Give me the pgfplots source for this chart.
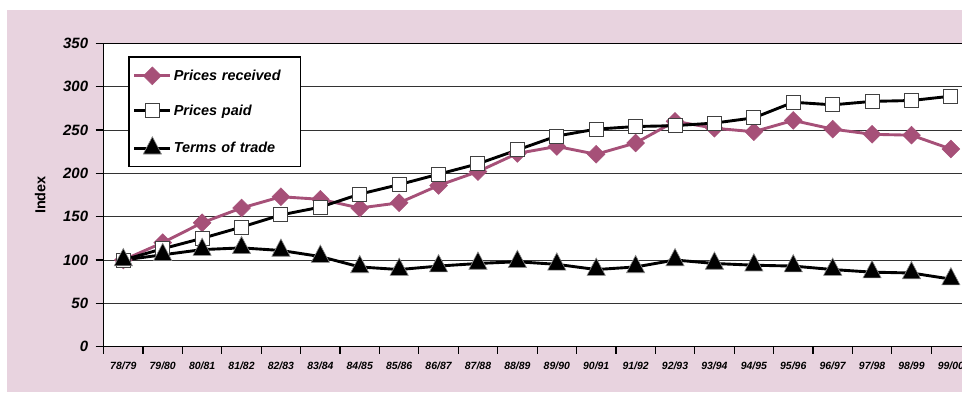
\documentclass[border=0pt]{standalone}
\usepackage{fontspec}
\setmainfont{Liberation Sans}
\usepackage{pgfplots}
\usepackage{pgfplotstable}
\pgfplotsset{compat=1.18}

\definecolor{bgpink}{RGB}{232,211,223}
\definecolor{mauve}{RGB}{166,80,120}

% Index values, 1978/79 = 100
\pgfplotstableread{
idx recv paid tot
0  100 100 100
1  120 113 106
2  143 125 112
3  160 138 114
4  173 152 111
5  170 161 104
6  160 176 92
7  166 187 89
8  186 199 93
9  202 211 96
10 223 227 98
11 231 243 95
12 222 251 89
13 235 254 92
14 260 255 100
15 252 258 96
16 248 264 94
17 261 282 93
18 251 279 89
19 245 283 86
20 244 284 85
21 228 289 78
}\indextable

\begin{document}
\begin{tikzpicture}
\useasboundingbox (0bp,0bp) rectangle (962bp,396bp);
\clip (0bp,0bp) rectangle (962bp,396bp);
\fill[bgpink] (6.7bp,4bp) rectangle (975bp,386bp);
\begin{axis}[
  at={(103.6bp,49.3bp)}, anchor=south west,
  scale only axis, width=867bp, height=303.4bp,
  xmin=-0.5, xmax=21.5, ymin=0, ymax=350,
  axis background/.style={fill=white},
  axis line style={black, line width=1.4pt},
  /pgf/number format/assume math mode=true,
  ytick={0,50,...,350},
  xtick={0,...,21},
  xticklabels={78/79,79/80,80/81,81/82,82/83,83/84,84/85,85/86,86/87,87/88,88/89,89/90,90/91,91/92,92/93,93/94,94/95,95/96,96/97,97/98,98/99,99/00},
  minor xtick={-0.5,0.5,...,21.5},
  xtick pos=bottom, ytick pos=left,
  tick align=outside,
  major tick length=8bp,
  minor tick length=7bp,
  major x tick style={draw=none},
  minor x tick style={black, line width=1.2pt},
  major y tick style={black, line width=1.2pt},
  ymajorgrids,
  major y grid style={black!80, line width=0.8pt},
  yticklabel style={font=\fontsize{15}{17}\selectfont\bfseries\itshape, xshift=-4bp},
  xticklabel style={font=\fontsize{10.5}{12}\selectfont\bfseries\itshape, yshift=-4bp},
  ylabel={Index},
  ylabel style={font=\fontsize{14.5}{16}\selectfont\bfseries, at={(axis description cs:-0.073,0.5)}, anchor=center},
  legend style={
    at={(axis description cs:0.0285,0.957)}, anchor=north west,
    draw=black, line width=1.2pt, fill=white,
    font=\fontsize{14.5}{16}\selectfont\bfseries\itshape,
    inner xsep=4bp, inner ysep=10bp, row sep=18bp,
    nodes={text width=121bp},
  },
  legend cell align=left,
  legend image code/.code={
    \draw[mark repeat=2,mark phase=2,#1] plot coordinates {(0bp,0bp) (18bp,0bp) (36bp,0bp)};
  },
]
\addplot[mauve, line width=2.9pt, mark=square*, mark size=6.3bp,
  mark options={rotate=45, fill=mauve, draw=mauve, line width=0.5pt, solid}]
  table[x=idx, y=recv] {\indextable};
\addlegendentry{Prices received}
\addplot[black, line width=2.9pt, mark=square*, mark size=7bp,
  mark options={fill=white, draw=black!75, line width=1pt, solid}]
  table[x=idx, y=paid] {\indextable};
\addlegendentry{Prices paid}
\addplot[black, line width=2.9pt, mark=triangle*, mark size=10.5bp,
  mark options={yscale=1.1, fill=black, draw=black!45, line width=0.6pt, solid}]
  table[x=idx, y=tot] {\indextable};
\addlegendentry{Terms of trade}
\end{axis}
\end{tikzpicture}
\end{document}
